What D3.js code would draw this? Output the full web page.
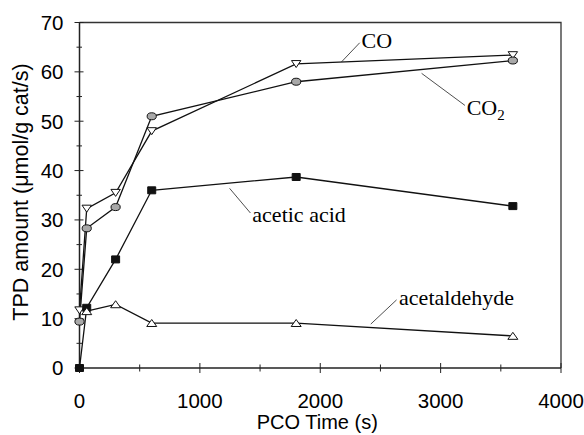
<!DOCTYPE html>
<html>
<head>
<meta charset="utf-8">
<script src="https://cdn.jsdelivr.net/npm/d3@7"></script>
<style>
  html, body { margin: 0; padding: 0; background: #fff; }
  svg { display: block; }
</style>
</head>
<body>
<svg id="chart" width="584" height="435"></svg>
<script>
// PCO time points (s) and TPD amounts (µmol/g cat/s) per product
const times = [0, 60, 300, 600, 1800, 3600];
const coValues = [11.7, 32.3, 35.5, 48.0, 61.6, 63.4];
const co2Values = [9.4, 28.3, 32.6, 51.0, 58.0, 62.3];
const aceticValues = [0, 12.2, 22.0, 36.0, 38.7, 32.8];
const acetaldehydeTimes = [60, 300, 600, 1800, 3600];
const acetaldehydeValues = [11.5, 12.9, 9.1, 9.1, 6.5];

const xTicks = [0, 1000, 2000, 3000, 4000];
const yTicks = [0, 10, 20, 30, 40, 50, 60, 70];

// Callout labels: text anchor and leader line ends, in data units
const labelNames = ["CO", "CO2", "acetic acid", "acetaldehyde"];
const labelAt = [[2343, 64.8], [3216, 51.2], [1436, 29.6], [2655, 12.7]];
const leaderFrom = [[2328, 65.9], [3202, 53.2], [1420, 31.4], [2634, 13.8]];
const leaderTo = [[2176, 62.0], [2842, 59.7], [1247, 36.4], [2420, 8.9]];

const margin = { top: 22.5, right: 23, bottom: 67, left: 79.5 };
const W = 584, H = 435;
const w = W - margin.left - margin.right;
const h = H - margin.top - margin.bottom;

const svg = d3.select("#chart");
const g = svg.append("g").attr("transform", `translate(${margin.left},${margin.top})`);

const x = d3.scaleLinear().domain([0, 4000]).range([0, w]);
const y = d3.scaleLinear().domain([0, 70]).range([h, 0]);

const sans = "'Liberation Sans', Arial, sans-serif";
const serif = "'Liberation Serif', 'Times New Roman', serif";

// Frame (top and right edges)
g.append("path")
  .attr("d", `M0,0H${w}V${h}`)
  .attr("fill", "none").attr("stroke", "#333").attr("stroke-width", 1.3);

// Axes with crossing major ticks and smaller minor ticks
const xAxisG = g.append("g").attr("transform", `translate(0,${h})`);
xAxisG.append("line").attr("x1", 0).attr("x2", w).attr("stroke", "#222").attr("stroke-width", 1.5);
const xMinor = d3.range(0, 4001, 500);
xAxisG.selectAll("line.tick").data(xMinor).join("line")
  .attr("class", "tick")
  .attr("x1", d => x(d)).attr("x2", d => x(d))
  .attr("y1", d => d % 1000 === 0 ? -5 : -3.5)
  .attr("y2", d => d % 1000 === 0 ? 5 : 3.5)
  .attr("stroke", "#222").attr("stroke-width", 1);
xAxisG.selectAll("text").data(xTicks).join("text")
  .attr("x", d => x(d)).attr("y", 40)
  .attr("text-anchor", "middle")
  .attr("font-family", sans).attr("font-size", 20.5)
  .text(d => d);

const yAxisG = g.append("g");
yAxisG.append("line").attr("y1", 0).attr("y2", h).attr("stroke", "#222").attr("stroke-width", 1.5);
const yMinor = d3.range(0, 71, 5);
yAxisG.selectAll("line.tick").data(yMinor).join("line")
  .attr("class", "tick")
  .attr("y1", d => y(d)).attr("y2", d => y(d))
  .attr("x1", d => d % 10 === 0 ? -5 : -3)
  .attr("x2", d => d % 10 === 0 ? 4 : 2.5)
  .attr("stroke", "#222").attr("stroke-width", 1);
yAxisG.selectAll("text").data(yTicks).join("text")
  .attr("x", -16).attr("y", d => y(d))
  .attr("dy", "0.36em")
  .attr("text-anchor", "end")
  .attr("font-family", sans).attr("font-size", 20.5)
  .text(d => d);

// Axis titles
svg.append("text")
  .attr("x", margin.left + w / 2 - 3).attr("y", 429)
  .attr("text-anchor", "middle")
  .attr("font-family", sans).attr("font-size", 20)
  .text("PCO Time (s)");
svg.append("text")
  .attr("transform", `translate(28,192) rotate(-90)`)
  .attr("text-anchor", "middle")
  .attr("font-family", sans).attr("font-size", 21.5)
  .text("TPD amount (\u03bcmol/g cat/s)");

// Series lines
const line = d3.line().x(d => x(d[0])).y(d => y(d[1]));
const series = [
  { t: times, v: coValues, kind: "down" },
  { t: times, v: co2Values, kind: "circle" },
  { t: times, v: aceticValues, kind: "square" },
  { t: acetaldehydeTimes, v: acetaldehydeValues, kind: "up" }
];
series.forEach(s => {
  const pts = s.t.map((t, i) => [t, s.v[i]]);
  g.append("path").datum(pts)
    .attr("d", line)
    .attr("fill", "none").attr("stroke", "#111").attr("stroke-width", 1.3);
});

// Markers
series.forEach(s => {
  const pts = s.t.map((t, i) => [t, s.v[i]]);
  const sel = g.append("g").selectAll("path").data(pts).join("path")
    .attr("transform", d => `translate(${x(d[0])},${y(d[1])})`)
    .attr("stroke", "#111").attr("stroke-width", 1);
  if (s.kind === "down") {
    sel.attr("d", "M-4.7,-3.4L4.7,-3.4L0,3.6Z").attr("fill", "#fff");
  } else if (s.kind === "up") {
    sel.attr("d", "M-5,3.4L5,3.4L0,-3.6Z").attr("fill", "#fff");
  } else if (s.kind === "circle") {
    sel.attr("d", "M-4.6,0A4.6,3.5 0 1,0 4.6,0A4.6,3.5 0 1,0 -4.6,0Z")
      .attr("fill", "#a8a8a8");
  } else {
    sel.attr("d", "M-4,-3.5H4V3.5H-4Z").attr("fill", "#111");
  }
});

// Callout labels with leader lines
labelNames.forEach((name, i) => {
  g.append("line")
    .attr("x1", x(leaderFrom[i][0])).attr("y1", y(leaderFrom[i][1]))
    .attr("x2", x(leaderTo[i][0])).attr("y2", y(leaderTo[i][1]))
    .attr("stroke", "#222").attr("stroke-width", 0.8);
  const t = g.append("text")
    .attr("x", x(labelAt[i][0])).attr("y", y(labelAt[i][1]))
    .attr("font-family", serif).attr("font-size", 22);
  if (name === "CO2") {
    t.append("tspan").text("CO");
    t.append("tspan").attr("dy", 5).attr("font-size", 15).text("2");
  } else {
    t.text(name);
  }
});
</script>
</body>
</html>
